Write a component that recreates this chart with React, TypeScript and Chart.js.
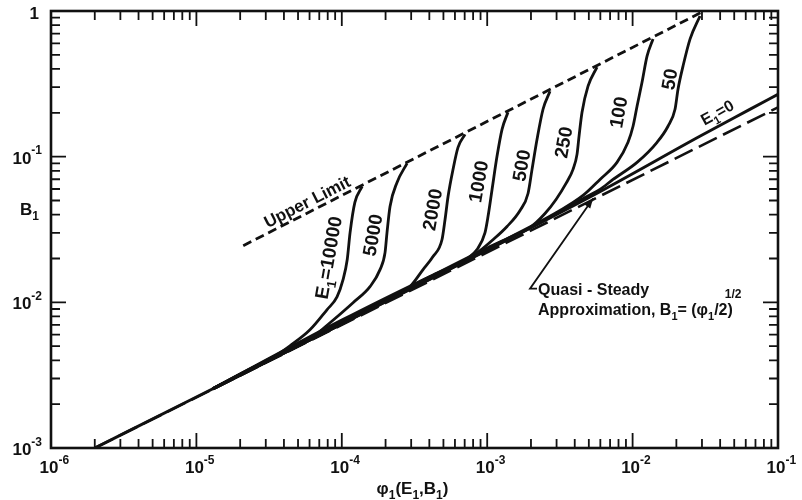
import React, { useEffect, useRef } from "react";
import { Chart, registerables } from "chart.js";

Chart.register(...registerables);

// ---------- axis decades ----------
const xDecades = [-6, -5, -4, -3, -2, -1];
const yDecades = [-3, -2, -1, 0];

// ---------- E1 = 0 ----------
const e0Phi = [2e-6, 1e-5, 1e-4, 1e-3, 6e-3, 2.9e-2, 6.4e-2, 1e-1];
const e0B = [1.0e-3, 2.24e-3, 7.1e-3, 2.28e-2, 5.77e-2, 0.138, 0.211, 0.268];

// ---------- Quasi-steady approximation ----------
const quasiPhi = [2e-6, 1e-1];
const quasiB = [1.0e-3, 0.218];

// ---------- Upper limit ----------
const upperPhi = [2.1e-5, 3.1e-2];
const upperB = [0.0245, 1.0];

// ---------- E1 curves ----------
const e10000Phi = [1.3e-5, 2.2e-5, 3.21e-5, 4.4e-5, 6.04e-5, 7.9e-5, 9.27e-5, 1.02e-4, 1.09e-4, 1.14e-4, 1.23e-4, 1.38e-4];
const e10000B = [2.56e-3, 3.38e-3, 4.06e-3, 5.03e-3, 6.48e-3, 8.89e-3, 1.09e-2, 1.43e-2, 1.97e-2, 3.01e-2, 4.85e-2, 6.25e-2];

const e5000Phi = [1.3e-5, 3.5e-5, 6.54e-5, 8.3e-5, 1.195e-4, 1.563e-4, 1.832e-4, 1.983e-4, 2.046e-4, 2.146e-4, 2.398e-4, 2.81e-4];
const e5000B = [2.55e-3, 4.3e-3, 5.95e-3, 7.24e-3, 9.94e-3, 1.281e-2, 1.677e-2, 2.195e-2, 3.014e-2, 4.55e-2, 6.655e-2, 0.09];

const e2000Phi = [1.3e-5, 5e-5, 1e-4, 2.323e-4, 2.945e-4, 3.62e-4, 4.24e-4, 4.89e-4, 5.13e-4, 5.38e-4, 5.82e-4, 6.3e-4, 7.04e-4];
const e2000B = [2.55e-3, 5.2e-3, 7.4e-3, 1.1e-2, 1.281e-2, 1.677e-2, 2.06e-2, 2.698e-2, 3.702e-2, 5.33e-2, 8.179e-2, 0.1159, 0.1424];

const e1000Phi = [1.3e-5, 5e-5, 1e-4, 3e-4, 4.74e-4, 6.01e-4, 7.26e-4, 8.51e-4, 9.66e-4, 1.013e-3, 1.08e-3, 1.168e-3, 1.265e-3, 1.39e-3];
const e1000B = [2.54e-3, 5.02e-3, 7.1e-3, 1.28e-2, 1.58e-2, 1.786e-2, 1.996e-2, 2.302e-2, 3.014e-2, 3.883e-2, 5.957e-2, 0.1005, 0.1541, 0.2018];

const e500Phi = [1.3e-5, 1e-4, 4e-4, 7.62e-4, 9.21e-4, 1.08e-3, 1.369e-3, 1.682e-3, 1.909e-3, 2.034e-3, 2.202e-3, 2.421e-3, 2.704e-3];
const e500B = [2.56e-3, 7.55e-3, 1.5e-2, 2.03e-2, 2.32e-2, 2.655e-2, 3.315e-2, 4.271e-2, 5.59e-2, 8.179e-2, 0.1316, 0.2116, 0.2814];

const e250Phi = [1.3e-5, 1e-4, 1e-3, 1.554e-3, 1.97e-3, 2.498e-3, 2.975e-3, 3.485e-3, 3.894e-3, 4.147e-3, 4.281e-3, 4.489e-3, 4.937e-3, 5.693e-3];
const e250B = [2.54e-3, 7.3e-3, 2.36e-2, 2.9e-2, 3.262e-2, 4.072e-2, 5.085e-2, 6.553e-2, 8.179e-2, 0.1037, 0.1379, 0.2018, 0.3047, 0.4117];

const e100Phi = [1.3e-5, 1e-4, 1e-3, 3.168e-3, 4.561e-3, 5.97e-3, 7.81e-3, 9.3e-3, 1.007e-2, 1.073e-2, 1.161e-2, 1.257e-2, 1.382e-2];
const e100B = [2.55e-3, 7.2e-3, 2.33e-2, 4.271e-2, 5.416e-2, 6.98e-2, 9.138e-2, 0.1255, 0.1617, 0.222, 0.3246, 0.4901, 0.6417];

const e50Phi = [1.3e-5, 1e-4, 1e-3, 3e-3, 4.708e-3, 5.97e-3, 7.335e-3, 1.073e-2, 1.473e-2, 1.752e-2, 1.958e-2, 2.053e-2, 2.222e-2, 2.483e-2, 2.907e-2];
const e50B = [2.55e-3, 7.12e-3, 2.29e-2, 4.05e-2, 5.248e-2, 5.957e-2, 6.98e-2, 9.138e-2, 0.1255, 0.1617, 0.2116, 0.2905, 0.4183, 0.6417, 0.924];

// ---------- curve labels (anchor in data coords) ----------
const curveLabelText = ["10000", "5000", "2000", "1000", "500", "250", "100", "50"];
const curveLabelPhi = [8.04e-5, 1.62e-4, 4.17e-4, 8.65e-4, 1.709e-3, 3.323e-3, 7.94e-3, 1.781e-2];
const curveLabelB = [2.028e-2, 2.9e-2, 4.339e-2, 6.762e-2, 8.712e-2, 0.1255, 0.2018, 0.3404];

type Seg = { t: string; k?: "sub" | "sup" };

const FAMILY = '"Liberation Sans", Arial, sans-serif';
const INK = "#111";

function segFont(size: number, k?: string) {
  const s = k ? Math.round(size * 0.68) : size;
  return `bold ${s}px ${FAMILY}`;
}
function richWidth(ctx: CanvasRenderingContext2D, segs: Seg[], size: number) {
  let w = 0;
  for (const s of segs) {
    ctx.font = segFont(size, s.k);
    w += ctx.measureText(s.t).width;
  }
  return w;
}
function drawRich(
  ctx: CanvasRenderingContext2D,
  segs: Seg[],
  x: number,
  y: number,
  size: number,
  align: "left" | "center" | "right"
) {
  const w = richWidth(ctx, segs, size);
  let cx = align === "center" ? x - w / 2 : align === "right" ? x - w : x;
  ctx.textAlign = "left";
  ctx.textBaseline = "alphabetic";
  for (const s of segs) {
    ctx.font = segFont(size, s.k);
    const dy = s.k === "sub" ? size * 0.3 : s.k === "sup" ? -size * 0.55 : 0;
    ctx.fillText(s.t, cx, y + dy);
    cx += ctx.measureText(s.t).width;
  }
  return cx;
}

function pts(xs: number[], ys: number[]) {
  return xs.map((x, i) => ({ x, y: ys[i] }));
}

const overlayPlugin = {
  id: "overlay",
  beforeDraw(chart: any) {
    const ctx = chart.ctx as CanvasRenderingContext2D;
    ctx.save();
    ctx.fillStyle = "#fff";
    ctx.fillRect(0, 0, chart.width, chart.height);
    ctx.restore();
  },
  afterDatasetsDraw(chart: any) {
    const ctx = chart.ctx as CanvasRenderingContext2D;
    const xs = chart.scales.x;
    const ys = chart.scales.y;
    const a = chart.chartArea;
    const X = (v: number) => xs.getPixelForValue(v);
    const Y = (v: number) => ys.getPixelForValue(v);
    ctx.save();
    ctx.strokeStyle = INK;
    ctx.fillStyle = INK;
    ctx.lineCap = "butt";

    // ticks (inward, all four sides)
    ctx.lineWidth = 1.8;
    ctx.beginPath();
    for (let e = xDecades[0]; e < xDecades[xDecades.length - 1]; e++) {
      for (let m = 1; m <= 9; m++) {
        if (e === xDecades[0] && m === 1) continue;
        const px = X(m * Math.pow(10, e));
        const len = m === 1 ? 15 : 9;
        ctx.moveTo(px, a.bottom);
        ctx.lineTo(px, a.bottom - len);
        ctx.moveTo(px, a.top);
        ctx.lineTo(px, a.top + len);
      }
    }
    for (let e = yDecades[0]; e < yDecades[yDecades.length - 1]; e++) {
      for (let m = 1; m <= 9; m++) {
        if (e === yDecades[0] && m === 1) continue;
        const py = Y(m * Math.pow(10, e));
        const len = m === 1 ? 15 : 9;
        ctx.moveTo(a.left, py);
        ctx.lineTo(a.left + len, py);
        ctx.moveTo(a.right, py);
        ctx.lineTo(a.right - len, py);
      }
    }
    ctx.stroke();

    // frame
    ctx.lineWidth = 2.6;
    ctx.strokeRect(a.left, a.top, a.right - a.left, a.bottom - a.top);

    // x tick labels
    const TS = 17;
    for (const e of xDecades) {
      const px = X(Math.pow(10, e));
      ctx.font = segFont(TS);
      const w10 = ctx.measureText("10").width;
      drawRich(ctx, [{ t: "10" }, { t: String(e), k: "sup" }], px - w10 / 2 - 2, a.bottom + 25, TS, "left");
    }
    // y tick labels
    for (const e of yDecades) {
      const py = Y(Math.pow(10, e));
      if (e === 0) {
        drawRich(ctx, [{ t: "1" }], a.left - 12, py + 8, TS, "right");
      } else {
        drawRich(ctx, [{ t: "10" }, { t: String(e), k: "sup" }], a.left - 9, py + 7, TS, "right");
      }
    }

    // axis titles
    drawRich(
      ctx,
      [{ t: "φ" }, { t: "1", k: "sub" }, { t: "(E" }, { t: "1", k: "sub" }, { t: ",B" }, { t: "1", k: "sub" }, { t: ")" }],
      (a.left + a.right) / 2 - 2,
      a.bottom + 46,
      17,
      "center"
    );
    drawRich(ctx, [{ t: "B" }, { t: "1", k: "sub" }], 20, Y(0.04), 17, "left");

    // rotated labels
    const rot = (segs: Seg[], phi: number, b: number, deg: number, size: number) => {
      ctx.save();
      ctx.translate(X(phi), Y(b));
      ctx.rotate((deg * Math.PI) / 180);
      drawRich(ctx, segs, 0, size * 0.36, size, "center");
      ctx.restore();
    };
    curveLabelText.forEach((t, i) => {
      const segs: Seg[] = i === 0 ? [{ t: "E" }, { t: "1", k: "sub" }, { t: "=" + t }] : [{ t }];
      rot(segs, curveLabelPhi[i], curveLabelB[i], -80, 19);
    });
    rot([{ t: "E" }, { t: "1", k: "sub" }, { t: "=0" }], 3.81e-2, 0.2018, -29, 16);
    rot([{ t: "Upper Limit" }], 5.76e-5, 0.0493, -27, 17);

    // quasi-steady annotation with arrow
    const tx = X(1.97e-3), ty = Y(1.24e-2);
    const hx = X(5.35e-3), hy = Y(5.17e-2);
    ctx.lineWidth = 1.8;
    ctx.beginPath();
    ctx.moveTo(tx + 7, ty);
    ctx.lineTo(tx, ty);
    ctx.lineTo(hx, hy);
    ctx.stroke();
    const ang = Math.atan2(hy - ty, hx - tx);
    ctx.beginPath();
    ctx.moveTo(hx, hy);
    ctx.lineTo(hx - 10 * Math.cos(ang) + 3.5 * Math.sin(ang), hy - 10 * Math.sin(ang) - 3.5 * Math.cos(ang));
    ctx.lineTo(hx - 10 * Math.cos(ang) - 3.5 * Math.sin(ang), hy - 10 * Math.sin(ang) + 3.5 * Math.cos(ang));
    ctx.closePath();
    ctx.fill();

    const lx = X(2.237e-3), ly = Y(1.128e-2);
    drawRich(ctx, [{ t: "Quasi - Steady" }], lx, ly, 16, "left");
    const endX = drawRich(
      ctx,
      [{ t: "Approximation, B" }, { t: "1", k: "sub" }, { t: "= (φ" }, { t: "1", k: "sub" }, { t: "/2)" }],
      lx,
      ly + 20,
      16,
      "left"
    );
    ctx.font = `bold 12px ${FAMILY}`;
    ctx.textAlign = "left";
    ctx.fillText("1/2", endX - 8, ly + 3);

    ctx.restore();
  },
};

function curve(data: { x: number; y: number }[], extra: any = {}) {
  return {
    data,
    showLine: true,
    borderColor: INK,
    backgroundColor: INK,
    borderWidth: 2.8,
    pointRadius: 0,
    fill: false,
    cubicInterpolationMode: "monotone",
    ...extra,
  };
}

export default function App() {
  const ref = useRef<HTMLCanvasElement | null>(null);
  useEffect(() => {
    if (!ref.current) return;
    const chart = new Chart(ref.current, {
      type: "scatter",
      data: {
        datasets: [
          curve(pts(quasiPhi, quasiB), { borderDash: [20, 7], borderWidth: 2.6, cubicInterpolationMode: "default", tension: 0 }),
          curve(pts(upperPhi, upperB), { borderDash: [9, 5], borderWidth: 2.8, cubicInterpolationMode: "default", tension: 0 }),
          curve(pts(e0Phi, e0B), { borderWidth: 3 }),
          curve(pts(e10000Phi, e10000B)),
          curve(pts(e5000Phi, e5000B)),
          curve(pts(e2000Phi, e2000B)),
          curve(pts(e1000Phi, e1000B)),
          curve(pts(e500Phi, e500B)),
          curve(pts(e250Phi, e250B)),
          curve(pts(e100Phi, e100B)),
          curve(pts(e50Phi, e50B)),
        ] as any,
      },
      options: {
        responsive: false,
        animation: false,
        events: [],
        layout: { padding: { left: 51, right: 24, top: 11, bottom: 52 } },
        plugins: { legend: { display: false }, tooltip: { enabled: false } },
        scales: {
          x: { type: "logarithmic", min: 1e-6, max: 1e-1, display: false },
          y: { type: "logarithmic", min: 1e-3, max: 1, display: false },
        },
      } as any,
      plugins: [overlayPlugin as any],
    });
    return () => chart.destroy();
  }, []);
  return (
    <div style={{ position: "absolute", left: 0, top: 0, width: 802, height: 500, background: "#fff" }}>
      <canvas ref={ref} width={802} height={500} style={{ display: "block" }} />
    </div>
  );
}
